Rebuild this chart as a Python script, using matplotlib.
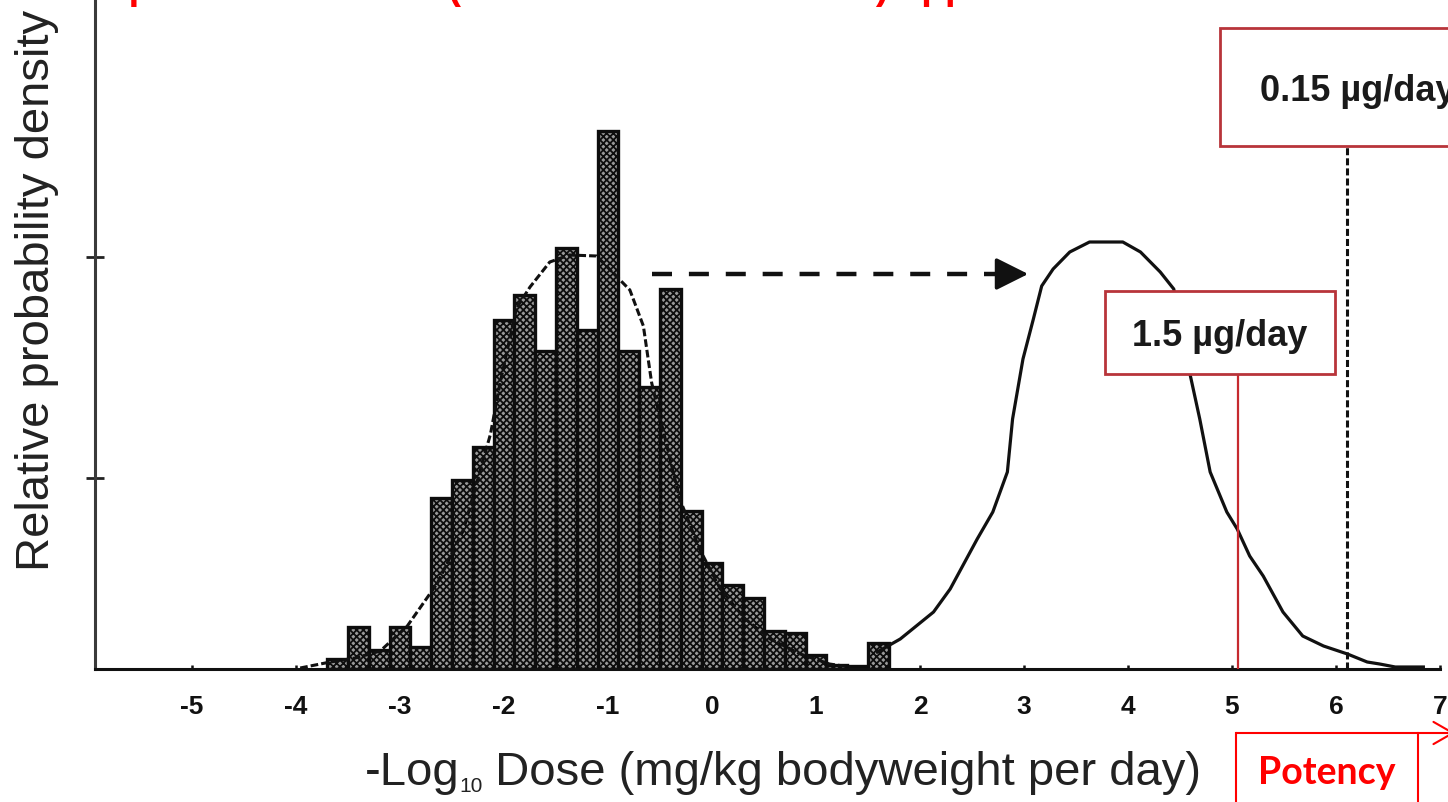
import numpy as np
import matplotlib
matplotlib.use("Agg")
import matplotlib.pyplot as plt
from matplotlib.patches import Rectangle
from matplotlib.lines import Line2D

plt.rcParams["font.family"] = ["Liberation Sans", "DejaVu Sans"]
plt.rcParams["axes.unicode_minus"] = False
plt.rcParams["hatch.linewidth"] = 1.3

# ---------------- data ----------------
# histogram of -log10 TD50 (bins of 0.2 log units)
bin_left = np.round(np.arange(-3.7, 1.6, 0.2), 1)
bin_height = [0.10, 0.42, 0.19, 0.42, 0.22, 1.71, 1.89, 2.22, 3.49, 3.74,
              3.18, 4.21, 3.39, 5.38, 3.18, 2.82, 3.80, 1.58, 1.06, 0.84,
              0.71, 0.38, 0.36, 0.14, 0.04, 0.03, 0.26]

# fitted distribution of TD50 values
td50_x = [-3.96, -3.67, -3.43, -3.19, -2.93, -2.64, -2.39, -2.13, -2.04, -1.88,
          -1.75, -1.56, -1.37, -1.11, -0.95, -0.79, -0.66, -0.60, -0.58, -0.45,
          -0.31, -0.12, 0.08, 0.32, 0.56, 0.85, 1.13, 1.33]
td50_y = [0.01, 0.07, 0.11, 0.18, 0.43, 0.86, 1.39, 2.35, 2.85, 3.61,
          3.82, 4.07, 4.14, 4.13, 3.96, 3.79, 3.43, 3.00, 2.86, 2.30,
          1.70, 1.20, 0.80, 0.50, 0.30, 0.15, 0.05, 0.02]

# distribution of virtually safe doses (1 in 10^6 risk)
vsd_x = [1.59, 1.81, 2.13, 2.29, 2.55, 2.70, 2.84, 2.89, 2.99, 3.09, 3.17,
         3.28, 3.44, 3.63, 3.95, 4.12, 4.31, 4.44, 4.60, 4.69, 4.79, 4.95,
         5.05, 5.17, 5.30, 5.49, 5.68, 5.88, 6.11, 6.30, 6.42, 6.57, 6.84]
vsd_y = [0.17, 0.30, 0.57, 0.80, 1.30, 1.57, 1.97, 2.50, 3.10, 3.50, 3.83,
         4.00, 4.17, 4.27, 4.27, 4.17, 3.97, 3.80, 2.93, 2.50, 1.97, 1.57,
         1.40, 1.13, 0.93, 0.57, 0.33, 0.23, 0.15, 0.07, 0.05, 0.02, 0.02]

x_ticks = list(range(-5, 8))
y_ticks = [1.91, 4.12]

shift_start, shift_end, shift_level = -0.58, 3.04, 3.95
ttc_15 = 5.06      # 1.5 µg/day
ttc_015 = 6.11     # 0.15 µg/day
label_15 = "1.5 µg/day"
label_015 = "0.15 µg/day"

# ---------------- figure ----------------
W, H = 1448, 803
fig = plt.figure(figsize=(W / 100, H / 100), dpi=100)
fig.patch.set_facecolor("white")


def fx(px):
    return px / W


def fy(py):
    return 1 - py / H


ax = fig.add_axes([fx(95), fy(670), (1440 - 95) / W, 670 / H])
ax.set_xlim(-5.933, 7.0)
ax.set_ylim(0, 6.70)

for s in ("top", "right"):
    ax.spines[s].set_visible(False)
ax.spines["left"].set_color("#3a3a3a")
ax.spines["left"].set_linewidth(2.2)
ax.spines["bottom"].set_color("#111111")
ax.spines["bottom"].set_linewidth(2.2)

ax.set_xticks(x_ticks)
ax.set_xticklabels([str(t) for t in x_ticks])
ax.tick_params(axis="x", direction="in", length=3, width=1.8, pad=18,
               labelsize=19, labelcolor="#111111", color="#111111")
for lab in ax.get_xticklabels():
    lab.set_fontweight("bold")
ax.set_yticks(y_ticks)
ax.set_yticklabels([])
ax.tick_params(axis="y", direction="inout", length=13, width=2.0,
               color="#222222")

# histogram
ax.bar(bin_left, bin_height, width=0.2, align="edge", facecolor="#999999",
       edgecolor="#0d0d0d", linewidth=2.4, hatch="xxxxx", zorder=2)

# fitted curves
ax.plot(td50_x, td50_y, color="#111111", lw=2.2, ls=(0, (2.5, 1.0)),
        zorder=3)
ax.plot(vsd_x, vsd_y, color="#111111", lw=2.3, zorder=3)

# dashed shift arrow
ax.plot([shift_start, shift_end - 0.2], [shift_level, shift_level],
        color="#111111", lw=3.2, ls=(0, (4.5, 3.8)), zorder=3)
ax.annotate("", xy=(shift_end, shift_level),
            xytext=(shift_end - 0.3, shift_level),
            arrowprops=dict(arrowstyle="-|>,head_length=1.0,head_width=0.5",
                            mutation_scale=20, lw=2.5, color="#111111",
                            shrinkA=0, shrinkB=0), zorder=4)

# thresholds
box_red = "#b8343a"
ax.plot([ttc_15, ttc_15], [0, 2.95], color="#c62a2f", lw=1.6, zorder=4)
ax.plot([ttc_015, ttc_015], [0, 5.23], color="#111111", lw=2.2,
        ls=(0, (2.3, 1.0)), zorder=4)

ax.add_patch(Rectangle((3.78, 2.95), 5.99 - 3.78, 3.78 - 2.95,
                       facecolor="white", edgecolor=box_red, lw=2.0,
                       zorder=5, clip_on=False))
ax.text((3.78 + 5.99) / 2, 3.24, label_15, ha="center", va="baseline",
        fontsize=26, fontweight="bold", color="#1a1a1a", zorder=6)

ax.add_patch(Rectangle((4.88, 5.23), 3.0, 6.41 - 5.23,
                       facecolor="white", edgecolor=box_red, lw=2.0,
                       zorder=5, clip_on=False))
ax.text(5.27, 5.69, label_015, ha="left", va="baseline", fontsize=26,
        fontweight="bold", color="#1a1a1a", zorder=6, clip_on=False)

# axis titles
fig.text(fx(37), fy(290), "Relative probability density", rotation=90,
         ha="center", va="center", fontsize=34, color="#222222")

# x title built from pieces so the subscript can be set smaller
renderer = fig.canvas.get_renderer()
xt_parts = [("-Log", 34, 0), ("10", 15, -7), (" Dose (mg/kg bodyweight per day)", 34, 0)]
xt_center, xt_base = 783, 785
pieces = []
for txt, size, dy in xt_parts:
    t = fig.text(0, fy(xt_base - dy), txt, ha="left", va="baseline",
                 fontsize=size, color="#222222")
    pieces.append(t)
widths = [p.get_window_extent(renderer).width for p in pieces]
cursor = xt_center - sum(widths) / 2
for p, w in zip(pieces, widths):
    p.set_x(fx(cursor))
    cursor += w

# potency bracket
red = "#ff0000"
for xs, ys in (([1236, 1236], [734, 810]), ([1418, 1418], [734, 810])):
    fig.add_artist(Line2D([fx(x) for x in xs], [fy(y) for y in ys],
                          color=red, lw=1.5, transform=fig.transFigure))
ax.annotate("", xy=(fx(1455), fy(734)), xycoords="figure fraction",
            xytext=(fx(1236), fy(734)), textcoords="figure fraction",
            arrowprops=dict(arrowstyle="->,head_length=0.7,head_width=0.4",
                            mutation_scale=20, color=red, lw=1.5,
                            shrinkA=0, shrinkB=0),
            annotation_clip=False)
fig.text(fx(1327), fy(784), "Potency", ha="center", va="baseline",
         fontsize=27, fontweight="bold", color=red,
         family=["Lato", "DejaVu Sans"])

# slide heading (runs above the top edge)
fig.text(fx(68), 1.0 + 1 / H,
         "Step 1 – Gold CPDB (Cheeseman et al. 1999) approach",
         ha="left", va="baseline", fontsize=28, fontweight="bold", color=red)

fig.savefig("out.png", dpi=100, facecolor="white")
